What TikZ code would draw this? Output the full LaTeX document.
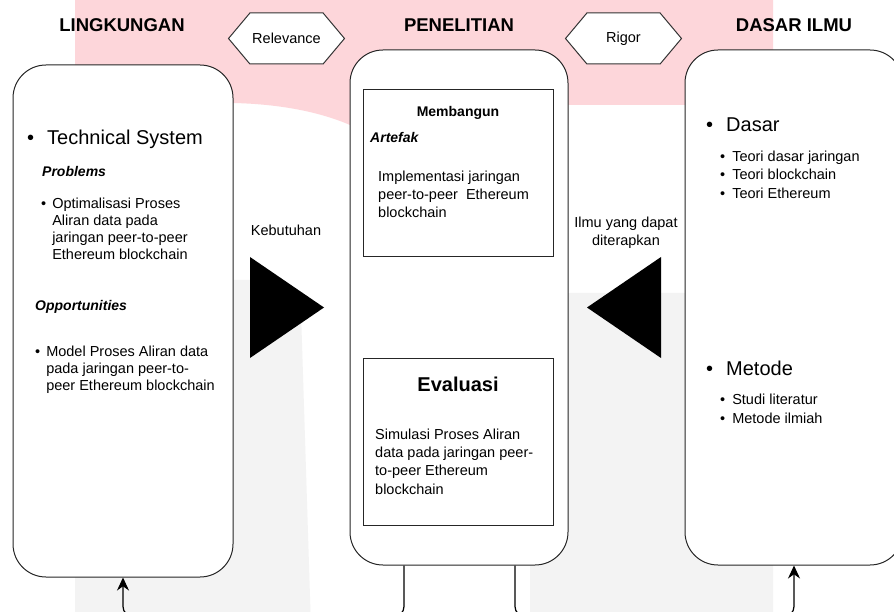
\documentclass[tikz,border=0pt]{standalone}
\usepackage{fontspec}
\setmainfont{Liberation Sans}
\usetikzlibrary{positioning, shapes.symbols, arrows.meta}
\definecolor{wmpink}{RGB}{253,214,218}
\definecolor{wmgrey}{RGB}{243,243,243}

\begin{document}
\begin{tikzpicture}[x=1pt, y=-1pt,
  panel/.style={draw=black!85, line width=1pt, fill=white, rounded corners=33pt},
  inbox/.style={draw=black!85, line width=1pt, fill=white},
  hexa/.style={signal, signal to=west and east, signal pointer angle=100, draw=black!80,
    line width=1pt, fill=white, inner sep=0pt, minimum width=116pt, minimum height=51pt,
    font=\fontsize{14.5}{17}\selectfont},
  head/.style={inner sep=0pt, font=\fontsize{18.5}{22}\selectfont\bfseries},
  big/.style={anchor=west, inner sep=0pt, font=\fontsize{20}{24}\selectfont},
  txt/.style={anchor=west, inner sep=0pt, align=left, font=\fontsize{14.5}{17.5}\selectfont},
  sub/.style={anchor=west, inner sep=0pt, font=\fontsize{14}{17}\selectfont\bfseries\itshape},
  link/.style={draw=black, line width=1.2pt, rounded corners=10pt}]
  \useasboundingbox[fill=white] (0,0) rectangle (894,612);
  % watermark
  \fill[wmpink] (75,0) -- (773,0) -- (773,105) -- (568,105) -- (568,125) -- (350,125)
    .. controls (320,112) and (280,104) .. (233,103) -- (75,103) -- cycle;
  \fill[wmgrey, rounded corners=40pt] (75,660) -- (75,280) -- (300,280) -- (312,660) -- cycle;
  \fill[wmgrey, rounded corners=40pt] (530,660) -- (530,293) -- (773,293) -- (773,660) -- cycle;

  % headers
  \node[head] (hling) at (122,25) {LINGKUNGAN};
  \node[head] (hpen) at (459,25) {PENELITIAN};
  \node[head] (hdsr) at (794,25) {DASAR ILMU};
  \node[hexa] (rel) at (286.5,38.5) {Relevance};
  \node[hexa] (rig) at (623.5,38.5) {Rigor};

  % panels
  \node[panel, minimum width=220pt, minimum height=512pt] (ling) at (123,321) {};
  \node[panel, minimum width=218pt, minimum height=515pt] (pen) at (459,307.5) {};
  \node[panel, minimum width=218pt, minimum height=515pt] (dsr) at (794,307.5) {};
  \node[inbox, minimum width=190pt, minimum height=167pt] (bangun) at (458,173.5) {};
  \node[inbox, minimum width=190pt, minimum height=167pt] (eval) at (458,441.5) {};

  % lingkungan
  \node[big] (tech) at (27,140) {\begin{tabular}{@{}l@{\hspace{13pt}}l@{}}•&Technical System\end{tabular}};
  \node[sub] (prob) at (42,171) {Problems};
  \node[txt, font=\fontsize{14.5}{17}\selectfont] (probl) at (41,230.5)
    {\begin{tabular}{@{}l@{\hspace{6pt}}l@{}}•&Optimalisasi Proses\\&Aliran data pada\\&jaringan peer-to-peer\\&Ethereum blockchain\end{tabular}};
  \node[sub] (opp) at (35,307) {Opportunities};
  \node[txt, font=\fontsize{14.5}{17}\selectfont] (oppl) at (35,370)
    {\begin{tabular}{@{}l@{\hspace{6pt}}l@{}}•&Model Proses Aliran data\\&pada jaringan peer-to-\\&peer Ethereum blockchain\end{tabular}};

  % penelitian
  \node[inner sep=0pt, font=\fontsize{14}{17}\selectfont\bfseries] (tbangun) at (458,113) {Membangun};
  \node[sub] (arte) at (370,137) {Artefak};
  \node[txt, font=\fontsize{14.5}{18}\selectfont] (impl) at (378,194)
    {Implementasi jaringan\\peer-to-peer\ \ Ethereum\\blockchain};
  \node[inner sep=0pt, font=\fontsize{20}{24}\selectfont\bfseries] (teval) at (458,384) {Evaluasi};
  \node[txt, font=\fontsize{14.5}{18.3}\selectfont] (simu) at (375,461.5)
    {Simulasi Proses Aliran\\data pada jaringan peer-\\to-peer Ethereum\\blockchain};

  % dasar ilmu
  \node[big] (dasar) at (706,127) {\begin{tabular}{@{}l@{\hspace{13pt}}l@{}}•&Dasar\end{tabular}};
  \node[txt, font=\fontsize{14.5}{18.5}\selectfont] (dasl) at (720,176)
    {\begin{tabular}{@{}l@{\hspace{7pt}}l@{}}•&Teori dasar jaringan\\•&Teori blockchain\\•&Teori Ethereum\end{tabular}};
  \node[big] (metode) at (706,371) {\begin{tabular}{@{}l@{\hspace{13pt}}l@{}}•&Metode\end{tabular}};
  \node[txt, font=\fontsize{14.5}{19}\selectfont] (metl) at (720,410.5)
    {\begin{tabular}{@{}l@{\hspace{7pt}}l@{}}•&Studi literatur\\•&Metode ilmiah\end{tabular}};

  % flows
  \node[inner sep=0pt, font=\fontsize{14.5}{17}\selectfont] (kebu) at (286,230) {Kebutuhan};
  \node[inner sep=0pt, align=center, font=\fontsize{14.5}{18}\selectfont] (ilmu) at (626,233)
    {Ilmu yang dapat\\diterapkan};
  \fill (250,257) -- (324,307.5) -- (250,358) -- cycle;
  \fill (661,257) -- (587,307.5) -- (661,358) -- cycle;
  \draw[link, -{Stealth[length=13pt, width=12pt]}] ([xshift=-55pt]pen.south) -- ++(0,51) -| (ling.south);
  \draw[link, -{Stealth[length=13pt, width=12pt]}] ([xshift=56pt]pen.south) -- ++(0,51) -| (dsr.south);
\end{tikzpicture}
\end{document}
